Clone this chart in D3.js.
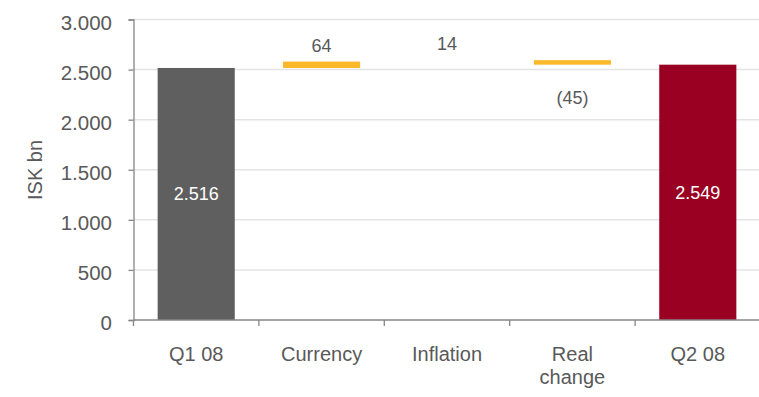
<!DOCTYPE html>
<html>
<head>
<meta charset="utf-8">
<script src="https://cdn.jsdelivr.net/npm/d3@7"></script>
<style>
  html, body { margin: 0; padding: 0; background: #ffffff; }
  svg { display: block; font-family: "Liberation Sans", Arial, sans-serif; }
</style>
</head>
<body>
<svg id="chart" width="759" height="397"></svg>
<script>
// ---- data ----
const categories = ["Q1 08", "Currency", "Inflation", "Real change", "Q2 08"];
const categoryLines = [["Q1 08"], ["Currency"], ["Inflation"], ["Real", "change"], ["Q2 08"]];
const barKinds = ["total", "delta", "delta", "delta", "total"];
const values = [2516, 64, 14, -45, 2549];
const valueLabels = ["2.516", "64", "14", "(45)", "2.549"];
const barColors = ["#5f5f5f", "#fbb829", "none", "#fbb829", "#990021"];
const yTicks = [0, 500, 1000, 1500, 2000, 2500, 3000];
const yTitle = "ISK bn";

(function () {
// ---- compute waterfall ----
let running = 0;
const bars = categories.map((c, i) => {
  let start, end;
  if (barKinds[i] === "total") { start = 0; end = values[i]; running = values[i]; }
  else { start = running; end = running + values[i]; running = end; }
  return { cat: c, lines: categoryLines[i], kind: barKinds[i], value: values[i],
           start, end, label: valueLabels[i], color: barColors[i] };
});

// ---- layout ----
const svg = d3.select("#chart");
const mLeft = 133.5, mRight = 760.5, mTop = 19.5, mBottom = 320;
const textColor = "#595959";
const axisColor = "#868686";

const x = d3.scaleBand().domain(categories).range([mLeft, mRight])
  .paddingInner(0.385).paddingOuter(0.1925);
const y = d3.scaleLinear().domain([0, 3000]).range([mBottom, mTop]);

const loc = d3.formatLocale({ decimal: ",", thousands: ".", grouping: [3], currency: ["", ""] });
const fmt = loc.format(",");

// gridlines
svg.append("g").selectAll("line").data(yTicks.filter(d => d > 0)).join("line")
  .attr("x1", mLeft).attr("x2", 759)
  .attr("y1", d => y(d)).attr("y2", d => y(d))
  .attr("stroke", "#e4e4e4").attr("stroke-width", 1.5);

// bars
svg.append("g").selectAll("rect").data(bars).join("rect")
  .attr("x", d => x(d.cat))
  .attr("width", x.bandwidth())
  .attr("y", d => y(Math.max(d.start, d.end)))
  .attr("height", d => Math.abs(y(d.start) - y(d.end)))
  .attr("fill", d => d.color);

// y axis
const yAxis = svg.append("g").attr("transform", `translate(${mLeft},0)`)
  .call(d3.axisLeft(y).tickValues(yTicks).tickFormat(fmt).tickSize(5).tickPadding(16.5));
yAxis.select(".domain").attr("stroke", axisColor).attr("stroke-width", 1.3);
yAxis.selectAll(".tick line").attr("stroke", axisColor).attr("stroke-width", 1.3);
yAxis.selectAll(".tick text").attr("fill", textColor).attr("font-size", 20.5)
  .attr("font-family", "Liberation Sans, Arial, sans-serif").attr("dy", "0.47em");

// x axis (boundary ticks)
const step = x.step();
const xAxisG = svg.append("g");
xAxisG.append("line").attr("x1", mLeft).attr("x2", 759).attr("y1", mBottom).attr("y2", mBottom)
  .attr("stroke", axisColor).attr("stroke-width", 1.3);
xAxisG.selectAll("line.tk").data(d3.range(categories.length + 1)).join("line")
  .attr("class", "tk")
  .attr("x1", i => mLeft + i * step).attr("x2", i => mLeft + i * step)
  .attr("y1", mBottom).attr("y2", mBottom + 6)
  .attr("stroke", axisColor).attr("stroke-width", 1.3);

// x labels (one text per line)
const lineItems = [];
bars.forEach(d => d.lines.forEach((l, i) => lineItems.push({ l, i, cat: d.cat })));
svg.append("g").selectAll("text").data(lineItems).join("text")
  .attr("x", t => x(t.cat) + x.bandwidth() / 2)
  .attr("y", t => t.i === 0 ? 361 : 383.5)
  .attr("text-anchor", "middle")
  .attr("fill", textColor).attr("font-size", 20)
  .text(t => t.l);

// y title
svg.append("text")
  .attr("transform", `translate(42,170) rotate(-90)`)
  .attr("text-anchor", "middle")
  .attr("fill", textColor).attr("font-size", 20)
  .text(yTitle);

// value labels
svg.append("g").selectAll("text").data(bars).join("text")
  .attr("x", d => x(d.cat) + x.bandwidth() / 2)
  .attr("y", d => {
    if (d.kind === "total") return (y(d.end) + y(0)) / 2;
    if (d.value >= 0) return y(d.end) - 16;
    return y(d.end) + 33;
  })
  .attr("dy", "0.35em")
  .attr("text-anchor", "middle")
  .attr("font-size", 18)
  .attr("fill", d => d.kind === "total" ? "#ffffff" : textColor)
  .text(d => d.label);
})();
</script>
</body>
</html>
